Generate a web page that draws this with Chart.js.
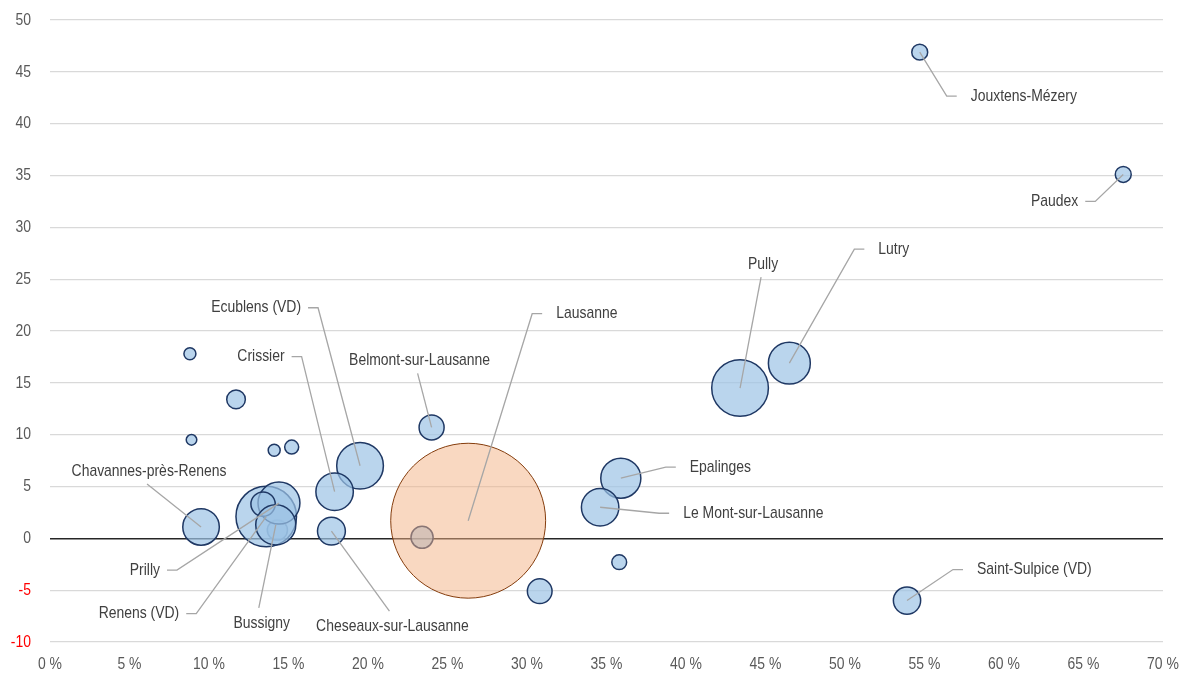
<!DOCTYPE html>
<html>
<head>
<meta charset="utf-8">
<script src="https://cdn.jsdelivr.net/npm/chart.js@4.4.1/dist/chart.umd.min.js"></script>
<style>
    html, body { margin: 0; padding: 0; background: #fff; }
</style>
</head>
<body>
<canvas id="bubbleChart" width="1179" height="673"></canvas>
<script>
// Communes: share on x (%), change on y, bubble size from population (thousands)
const communes = [
    'Jouxtens-Mézery', 'Paudex', 'Lutry', 'Pully', 'Belmont-sur-Lausanne',
    'Ecublens (VD)', 'Crissier', '', 'Epalinges', 'Le Mont-sur-Lausanne',
    '', '', 'Saint-Sulpice (VD)', 'Cheseaux-sur-Lausanne', 'Chavannes-près-Renens',
    '', 'Renens (VD)', 'Prilly', '', 'Bussigny',
    '', '', '', '', ''
];
const xShare = [
    54.7, 67.5, 46.5, 43.4, 24.0,
    19.5, 17.9, 23.4, 35.9, 34.6,
    35.8, 30.8, 53.9, 17.7, 9.5,
    14.3, 13.6, 14.4, 13.4, 14.2,
    8.8, 11.7, 8.9, 14.1, 15.2
];
const yChange = [
    46.9, 35.1, 16.9, 14.5, 10.7,
    7.0, 4.5, 0.1, 5.8, 3.0,
    -2.3, -5.1, -6.0, 0.7, 1.1,
    0.8, 2.1, 3.4, 3.3, 1.3,
    17.8, 13.4, 9.5, 8.5, 8.8
];
const population = [
    1.5, 1.5, 10.4, 19.0, 3.7,
    12.9, 8.3, 2.9, 9.5, 8.3,
    1.3, 3.6, 4.4, 4.6, 7.9,
    2.4, 21.7, 10.4, 3.5, 9.5,
    0.85, 2.05, 0.66, 0.85, 1.16
];

const capital = { name: 'Lausanne', x: 26.3, y: 1.7, pop: 142 };

const xTicks = [0, 5, 10, 15, 20, 25, 30, 35, 40, 45, 50, 55, 60, 65, 70];

// label placement: elbow offset from bubble centre (px) and side of the text
const labelLayout = {
    'Jouxtens-Mézery': [27, 44, 'right'],
    'Paudex': [-28, 27, 'left'],
    'Lutry': [65, -114, 'right'],
    'Pully': [21, -111, 'above'],
    'Lausanne': [64, -207, 'right'],
    'Ecublens (VD)': [-42, -158, 'left'],
    'Crissier': [-33, -135, 'left'],
    'Belmont-sur-Lausanne': [-14, -54, 'above'],
    'Epalinges': [45, -11, 'right'],
    'Le Mont-sur-Lausanne': [59, 6, 'right'],
    'Saint-Sulpice (VD)': [46, -31, 'right'],
    'Chavannes-près-Renens': [-54, -43, 'above'],
    'Prilly': [-102, 67, 'left'],
    'Renens (VD)': [-70, 97, 'left'],
    'Bussigny': [-17, 83, 'below'],
    'Cheseaux-sur-Lausanne': [58, 80, 'below']
};

const FONT = "17px 'Liberation Sans', Arial, sans-serif";
const NARROW = 0.82;
const radiusOf = pop => 6.5 * Math.sqrt(pop);

const bluePoints = xShare.map((x, i) => ({ x: x, y: yChange[i], r: radiusOf(population[i]), name: communes[i] }));
const capitalPoints = [{ x: capital.x, y: capital.y, r: radiusOf(capital.pop), name: capital.name }];

// condensed text: regular sans squeezed horizontally
function narrowText(ctx, text, x, y, align) {
    ctx.save();
    ctx.translate(x, y);
    ctx.scale(NARROW, 1);
    ctx.textAlign = align;
    ctx.textBaseline = 'middle';
    ctx.fillText(text, 0, 0);
    ctx.restore();
}

// tick labels for both axes
const axisLabels = {
    id: 'axisLabels',
    afterDraw(chart) {
        const ctx = chart.ctx;
        const xs = chart.scales.x;
        const ys = chart.scales.y;
        ctx.save();
        ctx.font = FONT;
        ys.ticks.forEach(t => {
            ctx.fillStyle = t.value < 0 ? '#ff0000' : '#595959';
            narrowText(ctx, String(t.value), xs.left - 19, ys.getPixelForValue(t.value), 'right');
        });
        ctx.fillStyle = '#595959';
        xs.ticks.forEach(t => {
            narrowText(ctx, t.value + ' %', xs.getPixelForValue(t.value), ys.bottom + 22, 'center');
        });
        ctx.restore();
    }
};

// leader lines and labels
const leaderLabels = {
    id: 'leaderLabels',
    afterDatasetsDraw(chart) {
        const ctx = chart.ctx;
        ctx.save();
        ctx.font = FONT;
        ctx.lineWidth = 1.3;
        ctx.strokeStyle = '#a6a6a6';
        ctx.fillStyle = '#404040';
        chart.data.datasets.forEach((ds, di) => {
            const meta = chart.getDatasetMeta(di);
            ds.data.forEach((pt, i) => {
                const lay = labelLayout[pt.name];
                if (!lay) return;
                const el = meta.data[i];
                const ex = el.x + lay[0];
                const ey = el.y + lay[1];
                ctx.beginPath();
                ctx.moveTo(el.x, el.y);
                ctx.lineTo(ex, ey);
                if (lay[2] === 'right') ctx.lineTo(ex + 10, ey);
                if (lay[2] === 'left') ctx.lineTo(ex - 10, ey);
                ctx.stroke();
                if (lay[2] === 'right') {
                    narrowText(ctx, pt.name, ex + 24, ey, 'left');
                } else if (lay[2] === 'left') {
                    narrowText(ctx, pt.name, ex - 17, ey, 'right');
                } else if (lay[2] === 'above') {
                    narrowText(ctx, pt.name, ex + 2, ey - 13, 'center');
                } else {
                    narrowText(ctx, pt.name, ex + 3, ey + 15, 'center');
                }
            });
        });
        ctx.restore();
    }
};

const ctx = document.getElementById('bubbleChart').getContext('2d');
const bubbleChart = new Chart(ctx, {
    type: 'bubble',
    data: {
        datasets: [
            {
                label: capital.name,
                data: capitalPoints,
                backgroundColor: 'rgba(244, 177, 131, 0.5)',
                borderColor: '#843c0c',
                borderWidth: 1,
                order: 0
            },
            {
                label: 'Communes',
                data: bluePoints,
                backgroundColor: 'rgba(157, 195, 230, 0.7)',
                borderColor: '#1f3864',
                borderWidth: 1.5,
                order: 1
            }
        ]
    },
    options: {
        responsive: false,
        animation: false,
        events: [],
        layout: {
            autoPadding: false,
            padding: { top: 20, right: 16, left: 0, bottom: 0 }
        },
        plugins: {
            legend: { display: false },
            tooltip: { enabled: false }
        },
        scales: {
            x: {
                type: 'linear',
                min: 0,
                max: 70,
                afterFit: scale => { scale.height = 31; },
                afterBuildTicks: scale => { scale.ticks = xTicks.map(v => ({ value: v })); },
                grid: { display: false },
                border: { display: false },
                ticks: { display: false }
            },
            y: {
                min: -10,
                max: 50,
                afterFit: scale => { scale.width = 50; },
                border: { display: false },
                grid: {
                    drawTicks: false,
                    color: c => c.tick.value === 0 ? '#262626' : '#d9d9d9',
                    lineWidth: c => c.tick.value === 0 ? 1.5 : 1.3
                },
                ticks: { display: false, stepSize: 5 }
            }
        }
    },
    plugins: [leaderLabels, axisLabels]
});
</script>
</body>
</html>
